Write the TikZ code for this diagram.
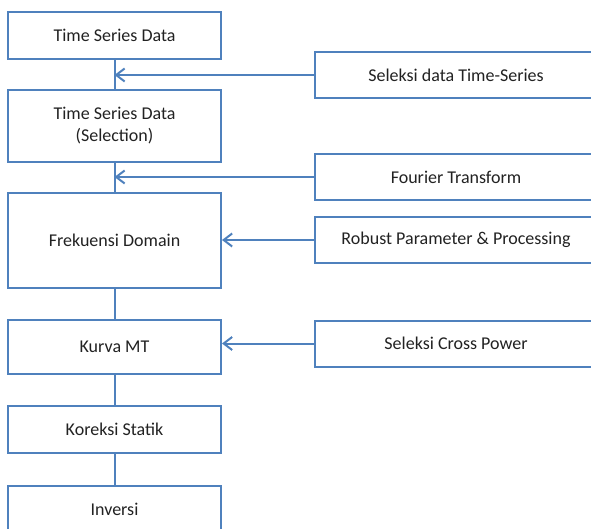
\documentclass[tikz,border=0pt]{standalone}
\usepackage{fontspec}
\setmainfont{Carlito}
\usetikzlibrary{arrows.meta}
\definecolor{boxblue}{HTML}{4F81BD}
\definecolor{txt}{HTML}{222222}
\begin{document}
\begin{tikzpicture}[x=1pt,y=-1pt,
  lbox/.style={draw=boxblue,line width=2pt,fill=white,inner sep=0pt,
    minimum width=213pt,text=txt,align=center,
    font=\fontsize{18}{22}\selectfont},
  rbox/.style={draw=boxblue,line width=2pt,fill=white,inner sep=0pt,
    minimum width=282pt,minimum height=46pt,text=txt,align=center,
    font=\fontsize{18}{22}\selectfont},
  link/.style={draw=boxblue,line width=2pt},
  arr/.style={link,-{Straight Barb[length=8.5pt,width=13pt,line width=2pt]}}]
\useasboundingbox (0,0) rectangle (591,529);
% left column
\node[lbox,minimum height=47pt] (b1) at (114.5,35.5) {Time Series Data};
\node[lbox,minimum height=72pt] (b2) at (114.5,126) {Time Series Data\\(Selection)};
\node[lbox,minimum height=95pt] (b3) at (114.5,240.5) {Frekuensi Domain};
\node[lbox,minimum height=54pt] (b4) at (114.5,347) {Kurva MT};
\node[lbox,minimum height=47pt] (b5) at (114.5,429.5) {Koreksi Statik};
\node[lbox,minimum height=46pt] (b6) at (114.5,509) {Inversi};
% right column
\node[rbox] (r1) at (456,75) {Seleksi data Time-Series};
\node[rbox] (r2) at (456,177) {Fourier Transform};
\node[rbox] (r3) at (456,240) {Robust Parameter \& Processing};
\node[rbox] (r4) at (456,343.5) {Seleksi Cross Power};
% vertical links
\draw[link] (b1.south) -- (b2.north);
\draw[link] (b2.south) -- (b3.north);
\draw[link] (b3.south) -- (b4.north);
\draw[link] (b4.south) -- (b5.north);
\draw[link] (b5.south) -- (b6.north);
% join points on the vertical links
\coordinate (j1) at (r1.west -| b1.south);
\coordinate (j2) at (r2.west -| b2.south);
% horizontal arrows
\draw[arr] (r1.west) -- (j1);
\draw[arr] (r2.west) -- (j2);
\draw[arr] (r3.west) -- (r3.west -| b3.east);
\draw[arr] (r4.west) -- (r4.west -| b4.east);
\end{tikzpicture}
\end{document}
